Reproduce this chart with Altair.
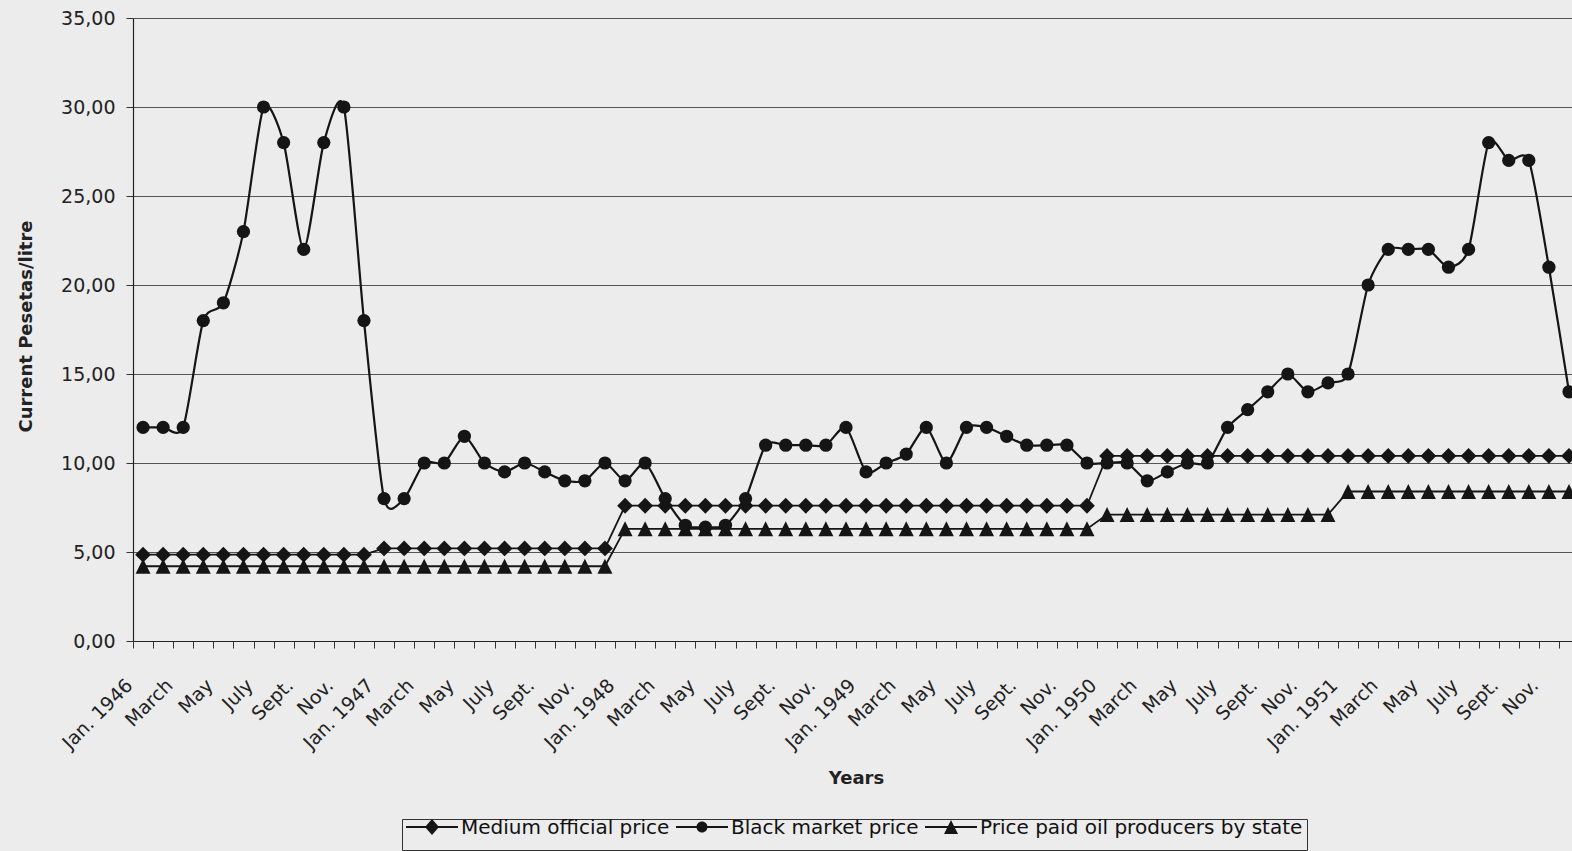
import altair as alt
import pandas as pd

# ---- data ----
tick_labels = [
    "Jan. 1946", "March", "May", "July", "Sept.", "Nov.",
    "Jan. 1947", "March", "May", "July", "Sept.", "Nov.",
    "Jan. 1948", "March", "May", "July", "Sept.", "Nov.",
    "Jan. 1949", "March", "May", "July", "Sept.", "Nov.",
    "Jan. 1950", "March", "May", "July", "Sept.", "Nov.",
    "Jan. 1951", "March", "May", "July", "Sept.", "Nov.",
]

series_names = [
    "Medium official price",
    "Black market price",
    "Price paid oil producers by state",
]

official = [
    4.85, 4.85, 4.85, 4.85, 4.85, 4.85, 4.85, 4.85, 4.85, 4.85, 4.85, 4.85,
    5.2, 5.2, 5.2, 5.2, 5.2, 5.2, 5.2, 5.2, 5.2, 5.2, 5.2, 5.2,
    7.6, 7.6, 7.6, 7.6, 7.6, 7.6, 7.6, 7.6, 7.6, 7.6, 7.6, 7.6,
    7.6, 7.6, 7.6, 7.6, 7.6, 7.6, 7.6, 7.6, 7.6, 7.6, 7.6, 7.6,
    10.4, 10.4, 10.4, 10.4, 10.4, 10.4, 10.4, 10.4, 10.4, 10.4, 10.4, 10.4,
    10.4, 10.4, 10.4, 10.4, 10.4, 10.4, 10.4, 10.4, 10.4, 10.4, 10.4, 10.4,
]

black_market = [
    12, 12, 12, 18, 19, 23, 30, 28, 22, 28, 30, 18,
    8, 8, 10, 10, 11.5, 10, 9.5, 10, 9.5, 9, 9, 10,
    9, 10, 8, 6.5, 6.4, 6.5, 8, 11, 11, 11, 11, 12,
    9.5, 10, 10.5, 12, 10, 12, 12, 11.5, 11, 11, 11, 10,
    10, 10, 9, 9.5, 10, 10, 12, 13, 14, 15, 14, 14.5,
    15, 20, 22, 22, 22, 21, 22, 28, 27, 27, 21, 14,
]

producers = [
    4.2, 4.2, 4.2, 4.2, 4.2, 4.2, 4.2, 4.2, 4.2, 4.2, 4.2, 4.2,
    4.2, 4.2, 4.2, 4.2, 4.2, 4.2, 4.2, 4.2, 4.2, 4.2, 4.2, 4.2,
    6.3, 6.3, 6.3, 6.3, 6.3, 6.3, 6.3, 6.3, 6.3, 6.3, 6.3, 6.3,
    6.3, 6.3, 6.3, 6.3, 6.3, 6.3, 6.3, 6.3, 6.3, 6.3, 6.3, 6.3,
    7.1, 7.1, 7.1, 7.1, 7.1, 7.1, 7.1, 7.1, 7.1, 7.1, 7.1, 7.1,
    8.4, 8.4, 8.4, 8.4, 8.4, 8.4, 8.4, 8.4, 8.4, 8.4, 8.4, 8.4,
]

rows = []
for name, vals in zip(series_names, [official, black_market, producers]):
    for i, v in enumerate(vals):
        rows.append({"m": i, "series": name, "v": v})
df = pd.DataFrame(rows)

INK = "#151515"
BG = "#ececec"
FONT = "DejaVu Sans"

arr = "[" + ",".join("'" + s + "'" for s in tick_labels) + "]"
label_expr = (
    "(round(datum.value + 0.5) % 2 == 0) ? "
    + arr + "[round(datum.value + 0.5) / 2] : ''"
)
tick_values = [i - 0.5 for i in range(72)]

x_axis = alt.Axis(
    values=tick_values, labelExpr=label_expr, labelAngle=315, labelAlign="right",
    labelBaseline="middle", labelPadding=34, labelOffset=-4, labelOverlap=False,
    labelFlush=False, labelBound=False, labelFont=FONT, labelFontSize=19,
    labelColor="#222", tickSize=7, tickColor="#333", domainColor="#222",
    domainWidth=1.2, grid=False, titleFont=FONT, titleFontSize=18,
    titleFontWeight="bold", titleColor="#222", titleX=723, titleY=142,
    titleAlign="center", titleBaseline="alphabetic", titleAngle=0,
)
y_axis = alt.Axis(
    values=[0, 5, 10, 15, 20, 25, 30, 35],
    labelExpr="replace(format(datum.value, '.2f'), '.', ',')",
    labelFont=FONT, labelFontSize=19, labelColor="#222", labelPadding=11,
    tickSize=7, tickColor="#333", domainColor="#222", domainWidth=1.2,
    grid=True, gridColor="#555", gridWidth=1, titleFont=FONT, titleFontSize=18,
    titleFontWeight="bold", titleColor="#222", titleAngle=270, titleX=-102,
    titleY=308, titleAlign="center", titleBaseline="alphabetic",
)

base = alt.Chart(df).encode(
    x=alt.X("m:Q", title="Years",
            scale=alt.Scale(domain=[-0.5, 71.15], nice=False, zero=False),
            axis=x_axis),
    y=alt.Y("v:Q", title="Current Pesetas/litre",
            scale=alt.Scale(domain=[0, 35], nice=False, zero=True),
            axis=y_axis),
)

def only(name):
    return base.transform_filter(alt.datum.series == name)

tri_path = "M0,-1L1,1L-1,1Z"

off_line = only(series_names[0]).mark_line(color=INK, strokeWidth=1.8)
off_pts = only(series_names[0]).mark_point(shape="diamond", filled=True, size=250,
                                           color=INK, opacity=1)
bm_line = only(series_names[1]).mark_line(color=INK, strokeWidth=2.2,
                                          interpolate="cardinal", tension=0.3)
bm_pts = only(series_names[1]).mark_point(shape="circle", filled=True, size=175,
                                          color=INK, opacity=1)
pr_line = only(series_names[2]).mark_line(color=INK, strokeWidth=1.8)
pr_pts = only(series_names[2]).mark_point(shape=tri_path, filled=True, size=225,
                                          color=INK, opacity=1)

# legend symbols: short bar with the marker on it (path in units of 10 px)
seg = "M-2.6,-0.8H2.6V-0.6H-2.6Z"
pad_below = "M0,0.8L0.001,0.8Z"
leg_diamond = seg + "M-0.7,-0.7L0,-1.5L0.7,-0.7L0,0.1Z" + pad_below
leg_circle = seg + "M0.55,-0.7A0.55,0.55,0,1,1,-0.55,-0.7A0.55,0.55,0,1,1,0.55,-0.7Z" + pad_below
leg_triangle = seg + "M0,-1.4L0.7,0L-0.7,0Z" + pad_below

legend_layer = base.mark_point(filled=True, opacity=0, color=INK).encode(
    shape=alt.Shape(
        "series:N",
        scale=alt.Scale(domain=series_names, range=[leg_diamond, leg_circle, leg_triangle]),
        legend=alt.Legend(
            title=None, orient="none", legendX=269, legendY=801,
            direction="horizontal", columns=3, symbolSize=400,
            symbolStrokeWidth=2, symbolFillColor=INK, symbolStrokeColor=INK,
            symbolOpacity=1, symbolOffset=15, labelOffset=18, labelFont=FONT,
            labelFontSize=20, labelColor="#111", labelBaseline="alphabetic",
            labelLimit=500, columnPadding=2, padding=4, strokeColor="#333",
        ),
    )
)

chart = alt.layer(
    off_line, off_pts, bm_line, bm_pts, pr_line, pr_pts, legend_layer
).properties(
    width=1439, height=623,
    autosize=alt.AutoSizeParams(type="none"),
    padding={"left": 133, "top": 18, "right": 0, "bottom": 210},
    background=BG,
).configure_view(strokeWidth=0)

chart.save("out.html", embed_options={"renderer": "svg", "actions": False})
